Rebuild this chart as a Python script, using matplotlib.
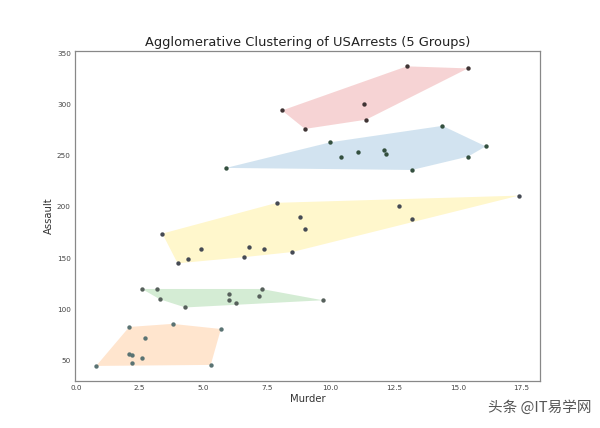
import numpy as np
import matplotlib
matplotlib.use("Agg")
import matplotlib.pyplot as plt
from matplotlib.patches import Polygon

# USArrests (Murder, Assault) grouped by cluster
red_murder = [8.1, 9.0, 11.3, 11.4, 13.0, 15.4]
red_assault = [294, 276, 300, 285, 337, 335]

blue_murder = [5.9, 10.0, 10.4, 11.1, 12.1, 12.2, 13.2, 14.4, 15.4, 16.1]
blue_assault = [238, 263, 249, 254, 255, 252, 236, 279, 249, 259]

gold_murder = [8.8, 7.9, 17.4, 4.4, 9.0, 7.4, 6.6, 4.9, 3.4, 13.2, 12.7, 8.5, 4.0, 6.8]
gold_assault = [190, 204, 211, 149, 178, 159, 151, 159, 174, 188, 201, 156, 145, 161]

green_murder = [3.3, 2.6, 7.2, 6.0, 9.7, 6.0, 4.3, 7.3, 6.3, 3.2]
green_assault = [110, 120, 113, 115, 109, 109, 102, 120, 106, 120]

orange_murder = [5.3, 2.2, 2.1, 2.7, 2.1, 0.8, 3.8, 2.2, 5.7, 2.6]
orange_assault = [46, 56, 83, 72, 57, 45, 86, 48, 81, 53]

groups = [
    (red_murder, red_assault, "tab:red", "#3f3434"),
    (blue_murder, blue_assault, "tab:blue", "#34503f"),
    (gold_murder, gold_assault, "gold", "#454a54"),
    (green_murder, green_assault, "tab:green", "#56605b"),
    (orange_murder, orange_assault, "tab:orange", "#5a7373"),
]


def convex_hull(points):
    pts = sorted(set(map(tuple, points)))
    if len(pts) <= 2:
        return pts

    def cross(o, a, b):
        return (a[0] - o[0]) * (b[1] - o[1]) - (a[1] - o[1]) * (b[0] - o[0])

    lower = []
    for p in pts:
        while len(lower) >= 2 and cross(lower[-2], lower[-1], p) <= 0:
            lower.pop()
        lower.append(p)
    upper = []
    for p in reversed(pts):
        while len(upper) >= 2 and cross(upper[-2], upper[-1], p) <= 0:
            upper.pop()
        upper.append(p)
    return lower[:-1] + upper[:-1]


fig = plt.figure(figsize=(6.0, 4.28), dpi=100)
ax = fig.add_subplot(111)

for xs, ys, fc, pc in groups:
    hull = convex_hull(np.column_stack([xs, ys]))
    poly = Polygon(hull, closed=True, fc=fc, ec="none", alpha=0.2, linewidth=0)
    ax.add_patch(poly)
    ax.scatter(xs, ys, s=10, color=pc, linewidths=0, zorder=3)

ax.set_xticks([0.0, 2.5, 5.0, 7.5, 10.0, 12.5, 15.0, 17.5])
ax.set_yticks([50, 100, 150, 200, 250, 300, 350])
ax.tick_params(length=0, labelsize=5.2, colors="#444444", pad=3)
for sp in ax.spines.values():
    sp.set_color("#888888")
    sp.set_linewidth(0.9)

ax.set_xlabel("Murder", fontsize=7.2, color="#333333", labelpad=2)
ax.set_ylabel("Assault", fontsize=7.2, color="#333333", labelpad=2)
ax.set_title("Agglomerative Clustering of USArrests (5 Groups)", fontsize=9.4, color="#222222", pad=4)

fig.text(0.985, 0.03, "头条 @IT易学网", ha="right", va="bottom", fontsize=10.5,
         color="#555555", family=["Noto Sans CJK SC", "DejaVu Sans"])

fig.savefig("out.png", dpi=100)
